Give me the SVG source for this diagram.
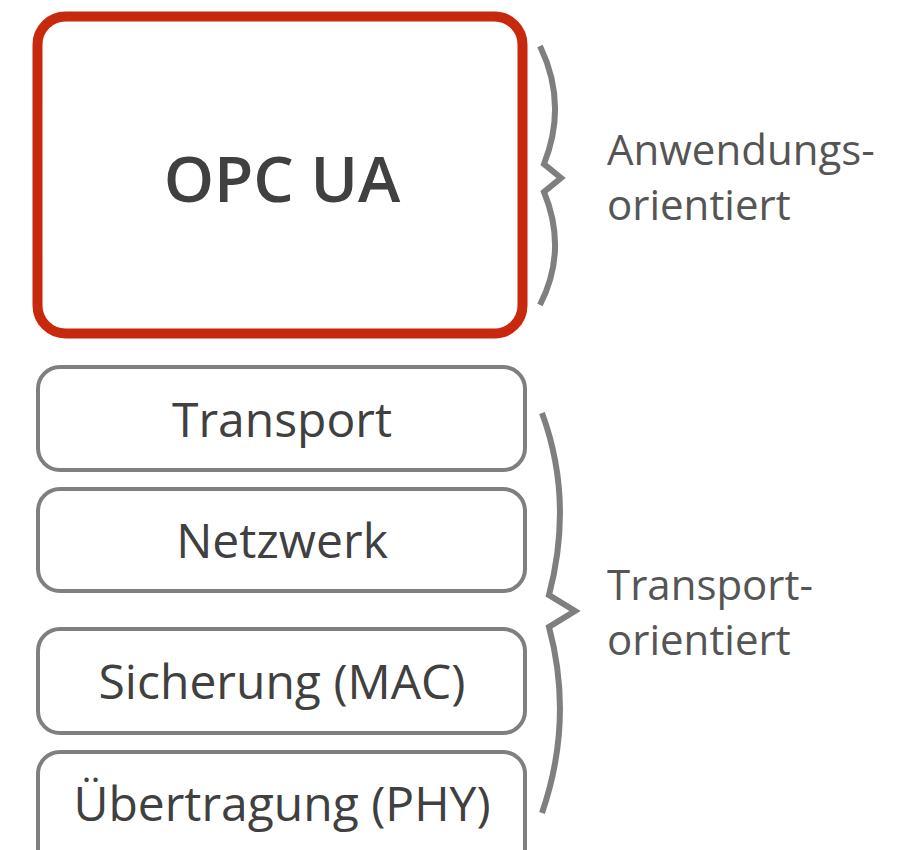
<svg xmlns="http://www.w3.org/2000/svg" width="919" height="850" viewBox="0 0 919 850">
<style>
.layer{fill:#fff;stroke:#7f7f7f;stroke-width:4}
.lt{font-family:"Open Sans","Noto Sans",sans-serif;font-size:48px;fill:#404040;text-anchor:middle}
.side{font-family:"Open Sans","Noto Sans",sans-serif;font-size:42px;fill:#555}
.brace{fill:none;stroke:#7f7f7f;stroke-width:6;stroke-linejoin:miter}
</style>
<rect width="919" height="850" fill="#fff"/>
<g id="opcua">
<rect x="37.5" y="16.5" width="485" height="317" rx="28" fill="#fff" stroke="#c8290d" stroke-width="10"/>
<text x="282" y="202" font-family="'Open Sans','Noto Sans',sans-serif" font-size="64" font-weight="600" fill="#404040" text-anchor="middle">OPC UA</text>
</g>
<g id="transport">
<rect class="layer" x="38" y="367" width="487" height="103" rx="22"/>
<text class="lt" x="282" y="437">Transport</text>
</g>
<g id="netzwerk">
<rect class="layer" x="38" y="489" width="487" height="102" rx="22"/>
<text class="lt" x="282" y="558">Netzwerk</text>
</g>
<g id="sicherung">
<rect class="layer" x="38" y="629" width="487" height="104" rx="22"/>
<text class="lt" x="282" y="699">Sicherung (MAC)</text>
</g>
<g id="uebertragung">
<rect class="layer" x="38" y="752" width="487" height="120" rx="22"/>
<text class="lt" x="282" y="821">Übertragung (PHY)</text>
</g>
<g id="braces">
<path class="brace" d="M540,46 Q568,104 544,164 L561,178 L544,192 Q568,250 540,305"/>
<path class="brace" d="M542,413 Q574,500 549,595 L575,611 L549,627 Q574,720 542,813"/>
</g>
<g id="labels">
<text class="side" x="607" y="165">Anwendungs-</text>
<text class="side" x="607" y="220">orientiert</text>
<text class="side" x="607" y="600">Transport-</text>
<text class="side" x="607" y="655">orientiert</text>
</g>
</svg>
